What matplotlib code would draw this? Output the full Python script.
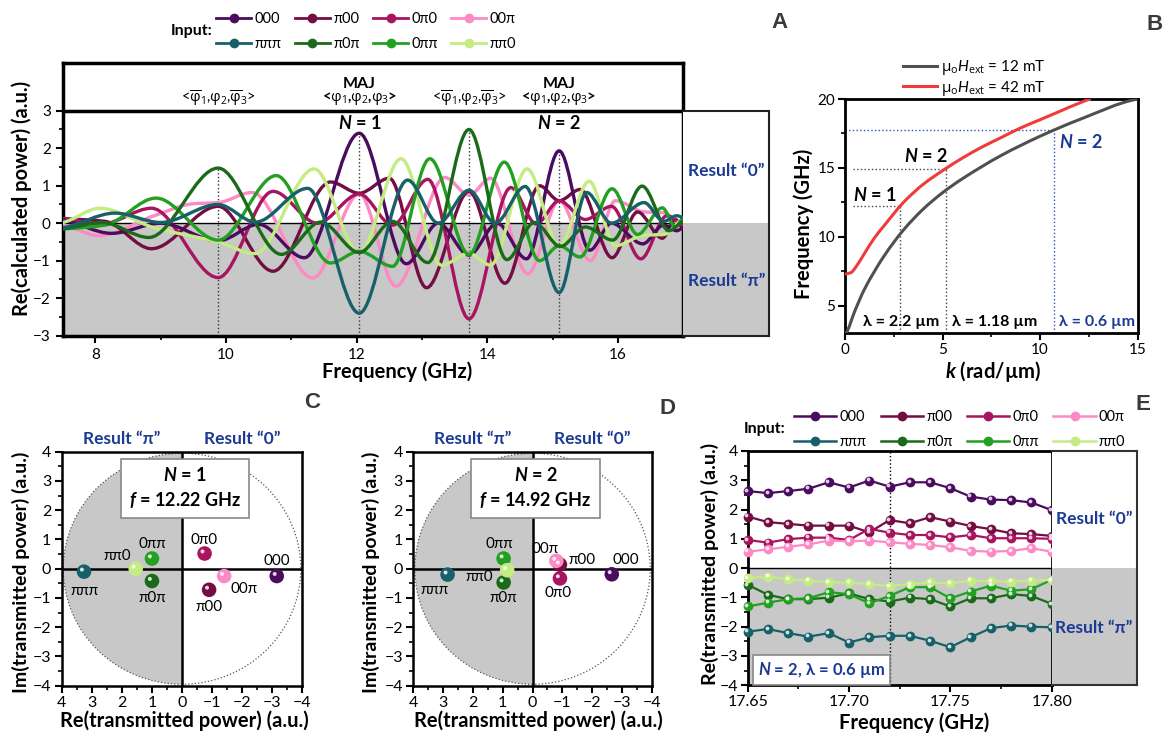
import numpy as np
import matplotlib
matplotlib.use("Agg")
import matplotlib.pyplot as plt
import matplotlib.transforms as mtransforms
from matplotlib.path import Path
from matplotlib.patches import PathPatch, Wedge, Circle
from matplotlib.lines import Line2D
from matplotlib.ticker import MultipleLocator, FixedLocator, FormatStrFormatter

plt.rcParams['font.family'] = ['Lato', 'DejaVu Sans']
plt.rcParams['mathtext.fontset'] = 'custom'
plt.rcParams['mathtext.rm'] = 'Open Sans'
plt.rcParams['mathtext.it'] = 'Lato:italic'
plt.rcParams['mathtext.bf'] = 'Lato:italic:bold'

# ---------------- data ----------------
inputs = ["000", "π00", "0π0", "00π", "πππ", "π0π", "0ππ", "ππ0"]
colors = ["#4b0b5e", "#730d42", "#a8145f", "#fc8ac4",
          "#17606a", "#1a6a1a", "#22a022", "#c4ec82"]

# panel A: turning points of each calculated curve (GHz, a.u.)
fA_000 = [7.5, 8.25, 9.0, 9.88, 10.5, 11.2, 12.04, 12.76, 13.25, 13.72, 14.15, 14.6, 15.1, 15.57, 15.9, 16.38, 16.7, 16.9, 17.0]
pA_000 = [0.08, -0.27, 0.0, -0.47, -0.03, -0.92, 2.4, -1.08, 0.0, -0.85, 0.0, -0.95, 1.93, -0.72, 0.0, -0.55, -0.05, -0.2, -0.12]
fA_ppp = [7.5, 8.3, 9.0, 9.88, 10.45, 11.25, 12.04, 12.78, 13.25, 13.72, 14.12, 14.58, 15.1, 15.52, 15.9, 16.4, 16.7, 16.9, 17.0]
pA_ppp = [-0.12, 0.27, 0.02, 0.5, 0.03, 0.93, -2.4, 1.15, 0.0, 0.88, 0.0, 0.98, -1.85, 0.82, 0.0, 0.55, 0.05, 0.2, 0.15]
fA_p0p = [7.5, 8.1, 8.82, 9.88, 10.85, 11.45, 12.04, 12.55, 13.09, 13.72, 14.3, 14.72, 15.12, 15.5, 15.92, 16.37, 16.78, 17.0]
pA_p0p = [-0.15, 0.02, -0.38, 1.47, -0.83, 0.03, -0.78, 0.05, -1.05, 2.5, -0.97, 0.02, -0.62, -0.1, -0.45, 0.99, -0.2, 0.05]
fA_0p0 = [7.5, 8.1, 8.86, 9.88, 10.72, 11.4, 12.04, 12.55, 13.09, 13.72, 14.36, 14.75, 15.1, 15.5, 15.9, 16.35, 16.75, 17.0]
pA_0p0 = [0.12, -0.02, 0.4, -1.45, 0.85, 0.0, 0.78, -0.05, 1.17, -2.55, 0.95, -0.02, 0.6, 0.1, 0.45, -0.95, 0.2, -0.05]
fA_pp0 = [7.5, 8.07, 8.9, 9.88, 10.44, 11.35, 12.04, 12.68, 13.3, 13.72, 14.05, 14.61, 15.1, 15.56, 15.96, 16.4, 16.7, 17.0]
pA_pp0 = [0.02, 0.4, -0.12, -0.5, -0.81, 1.45, -0.78, 1.72, -1.12, -0.8, -1.12, 1.45, -0.6, 1.12, -0.6, -0.32, -0.3, 0.12]
fA_00p = [7.5, 8.05, 8.9, 9.5, 9.88, 10.4, 11.33, 12.04, 12.6, 13.35, 13.72, 14.05, 14.62, 15.1, 15.58, 15.96, 16.4, 16.7, 17.0]
pA_00p = [-0.05, -0.33, 0.2, 0.52, 0.55, 0.82, -1.46, 0.78, -1.68, 1.22, 0.75, 1.2, -1.35, 0.6, -1.0, 0.6, 0.3, 0.28, -0.1]
fA_0pp = [7.5, 8.15, 8.93, 9.88, 10.77, 11.6, 12.04, 12.55, 13.12, 13.72, 14.26, 14.8, 15.1, 15.42, 15.91, 16.3, 16.68, 16.88, 17.0]
pA_0pp = [-0.15, -0.05, 0.67, -0.45, 1.27, -1.06, -0.75, -1.15, 1.72, -0.83, 1.63, -1.0, -0.6, -0.9, 0.92, -0.3, 0.41, -0.1, 0.15]
fA_p00 = [7.5, 8.15, 8.86, 9.88, 10.72, 11.6, 12.04, 12.5, 13.07, 13.72, 14.27, 14.8, 15.1, 15.42, 15.91, 16.3, 16.68, 16.88, 17.0]
pA_p00 = [0.12, 0.05, -0.68, 0.45, -1.28, 1.1, 0.8, 1.2, -1.72, 0.85, -1.6, 1.0, 0.6, 0.9, -0.92, 0.3, -0.4, 0.1, -0.15]

op_freq = [9.88, 12.04, 13.72, 15.1]
op_top = [1.47, 2.4, 2.5, 1.93]

# panel B: dispersion curves
k_12 = [0.05, 0.5, 1, 2, 3, 4, 5, 6, 8, 10, 12, 15]
f_12 = [3.0, 4.6, 6.2, 8.6, 10.5, 12.0, 13.2, 14.2, 15.9, 17.3, 18.5, 20.0]
k_42 = [0, 0.3, 0.6, 1, 1.5, 2, 3, 4, 5, 6, 7, 8, 9, 10, 11, 12, 12.6]
f_42 = [7.3, 7.4, 7.9, 8.8, 9.9, 10.8, 12.5, 13.8, 14.8, 15.7, 16.5, 17.2, 17.9, 18.5, 19.1, 19.7, 20.0]
k_marks = [2.82, 5.2, 10.7]
f_marks = [12.22, 14.92, 17.76]

# panel C / D: phasors (Re, Im)
re_C = [-3.15, -0.9, -0.75, -1.4, 3.26, 1.0, 1.0, 1.54]
im_C = [-0.25, -0.72, 0.52, -0.25, -0.1, -0.42, 0.35, 0.0]
re_D = [-2.66, -0.92, -0.92, -0.8, 2.85, 0.97, 0.97, 0.85]
im_D = [-0.19, 0.14, -0.33, 0.27, -0.2, -0.47, 0.35, -0.05]
lab_C = [(-3.15, 0.27), (-0.9, -1.3), (-0.74, 0.97), (-2.05, -0.7), (3.26, -0.75), (1.0, -1.0), (1.0, 0.86), (2.17, 0.43)]
lab_D = [(-3.14, 0.3), (-1.65, 0.3), (-0.87, -0.82), (-0.42, 0.69), (3.3, -0.73), (1.0, -1.0), (1.11, 0.83), (1.79, -0.29)]

# panel E: measured
freq_E = [17.65, 17.66, 17.67, 17.68, 17.69, 17.70, 17.71, 17.72, 17.73, 17.74, 17.75, 17.76, 17.77, 17.78, 17.79, 17.80]
E_000 = [2.63, 2.56, 2.63, 2.71, 2.93, 2.75, 2.99, 2.78, 2.93, 2.93, 2.73, 2.44, 2.34, 2.32, 2.24, 1.98]
E_p00 = [1.76, 1.57, 1.51, 1.45, 1.45, 1.45, 1.22, 1.64, 1.53, 1.74, 1.59, 1.44, 1.33, 1.19, 1.16, 1.10]
E_0p0 = [0.96, 0.87, 0.99, 1.04, 1.04, 0.96, 1.34, 1.21, 1.13, 1.13, 1.05, 1.13, 1.02, 1.02, 1.02, 1.00]
E_00p = [0.56, 0.64, 0.73, 0.81, 0.94, 0.91, 0.94, 0.88, 0.83, 0.79, 0.71, 0.59, 0.56, 0.59, 0.68, 0.56]
E_ppp = [-2.17, -2.08, -2.22, -2.34, -2.22, -2.54, -2.36, -2.31, -2.31, -2.48, -2.70, -2.36, -2.05, -1.96, -2.00, -2.02]
E_p0p = [-0.57, -0.91, -1.06, -1.06, -1.01, -0.86, -1.06, -1.14, -1.01, -1.06, -1.31, -1.03, -1.03, -0.89, -0.95, -1.22]
E_0pp = [-1.31, -1.18, -1.06, -1.03, -0.82, -0.89, -1.20, -0.95, -0.65, -0.65, -1.03, -0.80, -0.60, -0.77, -0.72, -0.40]
E_pp0 = [-0.35, -0.29, -0.38, -0.43, -0.49, -0.49, -0.55, -0.61, -0.54, -0.49, -0.52, -0.43, -0.44, -0.46, -0.43, -0.40]
E_mark = 17.72

BLUE = "#1b3a93"
GRAY = "#c8c8c8"


def smooth_path(xs, ys):
    # cubic through the read points, flat at turning points
    xs = np.asarray(xs, float)
    ys = np.asarray(ys, float)
    d = np.diff(ys) / np.diff(xs)
    m = np.zeros_like(ys)
    m[0] = d[0] * 0.5
    m[-1] = d[-1] * 0.5
    for i in range(1, len(xs) - 1):
        if d[i - 1] * d[i] > 0:
            m[i] = 2.0 / (1.0 / d[i - 1] + 1.0 / d[i])
    verts = [(xs[0], ys[0])]
    codes = [Path.MOVETO]
    for i in range(len(xs) - 1):
        h = xs[i + 1] - xs[i]
        verts += [(xs[i] + h / 3, ys[i] + m[i] * h / 3),
                  (xs[i + 1] - h / 3, ys[i + 1] - m[i + 1] * h / 3),
                  (xs[i + 1], ys[i + 1])]
        codes += [Path.CURVE4] * 3
    return Path(verts, codes)


def px(x, y):
    return x / 1165, 1 - y / 733


fig = plt.figure(figsize=(11.65, 7.33), dpi=100)

# ---------------- panel A ----------------
axA = fig.add_axes([0.0538, 0.542, 0.5327, 0.3724])
axA.set_xlim(7.5, 17)
axA.set_ylim(-3, 4.28)
axA.axhspan(-3, 0, color=GRAY, lw=0, zorder=0)
axA.axhline(0, color='k', lw=1.0, zorder=1)
axA.axhline(3, color='k', lw=2.5, zorder=6)
for f, top in zip(op_freq, op_top):
    axA.plot([f, f], [-3, top], ls=':', color='#333333', lw=1.0, zorder=2)

curvesA = [(fA_00p, pA_00p, 3), (fA_p00, pA_p00, 1), (fA_0p0, pA_0p0, 2),
           (fA_000, pA_000, 0), (fA_pp0, pA_pp0, 7), (fA_0pp, pA_0pp, 6),
           (fA_p0p, pA_p0p, 5), (fA_ppp, pA_ppp, 4)]
for fx, py, ci in curvesA:
    axA.add_patch(PathPatch(smooth_path(fx, py), fill=False, ec=colors[ci],
                            lw=2.4, zorder=3, capstyle='round'))

axA.set_xticks([8, 10, 12, 14, 16])
axA.xaxis.set_minor_locator(FixedLocator([9, 11, 13, 15]))
axA.set_yticks([-3, -2, -1, 0, 1, 2, 3])
axA.yaxis.set_minor_locator(FixedLocator([-2.5, -1.5, -0.5, 0.5, 1.5, 2.5]))
axA.tick_params(which='major', direction='out', length=5, width=1.5, labelsize=11)
axA.tick_params(which='minor', direction='out', length=3, width=1.2)
for s in axA.spines.values():
    s.set_linewidth(2.5)

opA_labels = [r'<$\overline{\mathrm{\varphi}}_1$,$\mathrm{\varphi}_2$,$\overline{\mathrm{\varphi}}_3$>',
              r'<$\mathrm{\varphi}_1$,$\mathrm{\varphi}_2$,$\mathrm{\varphi}_3$>',
              r'<$\overline{\mathrm{\varphi}}_1$,$\mathrm{\varphi}_2$,$\overline{\mathrm{\varphi}}_3$>',
              r'<$\mathrm{\varphi}_1$,$\mathrm{\varphi}_2$,$\mathrm{\varphi}_3$>']
for i, (f, lab) in enumerate(zip(op_freq, opA_labels)):
    axA.text(f, 3.32, lab, ha='center', va='center', fontsize=10.5,
             fontweight='bold' if i % 2 else 'normal')
    if i % 2:
        axA.text(f, 3.7, 'MAJ', ha='center', va='center', fontsize=11.5, fontweight='bold')
        axA.text(f, 2.68, r'$\mathbf{N}$ = %d' % ((i + 1) // 2), ha='center', va='center',
                 fontsize=13, fontweight='bold', zorder=7)

axA2 = fig.add_axes([0.5865, 0.542, 0.0738, 0.307])
axA2.set_xlim(0, 1)
axA2.set_ylim(-3, 3)
axA2.axhspan(-3, 0, color=GRAY, lw=0)
axA2.set_xticks([])
axA2.set_yticks([])
for s in axA2.spines.values():
    s.set_linewidth(1.5)
    s.set_color('#222222')
axA2.spines['left'].set_visible(False)
axA2.text(0.5, 1.39, 'Result “0”', color=BLUE, ha='center', va='center', fontsize=12.5, fontweight='bold')
axA2.text(0.5, -1.55, 'Result “π”', color=BLUE, ha='center', va='center', fontsize=12.5, fontweight='bold')

fig.text(*px(397, 372), 'Frequency (GHz)', ha='center', va='center', fontsize=14.5, fontweight='bold')
fig.text(*px(22, 198), 'Re(calculated power) (a.u.)', ha='center', va='center', rotation=90,
         fontsize=14.5, fontweight='bold')

# legend for panel A
order = [0, 4, 1, 5, 2, 6, 3, 7]
hA = [Line2D([], [], color=colors[i], lw=2, marker='o', ms=6) for i in order]
fig.legend(hA, [inputs[i] for i in order], ncol=4, loc='upper left',
           bbox_to_anchor=px(216, 12), frameon=False, fontsize=10.5, handlelength=2.4,
           handletextpad=0.25, columnspacing=0.9, labelspacing=0.75, borderpad=0, borderaxespad=0)
fig.text(*px(192, 31), 'Input:', ha='center', va='center', fontsize=11.5, fontweight='bold')

# ---------------- panel B ----------------
axB = fig.add_axes([0.7253, 0.5453, 0.2512, 0.3196])
axB.set_xlim(0, 15)
axB.set_ylim(3, 20)
axB.add_patch(PathPatch(smooth_path(k_12, f_12), fill=False, ec='#505050', lw=2.2, zorder=3))
axB.add_patch(PathPatch(smooth_path(k_42, f_42), fill=False, ec='#ef3b3b', lw=2.2, zorder=3))
axB.plot([0.43, k_marks[0]], [f_marks[0]] * 2, ls=':', color='#444', lw=1)
axB.plot([k_marks[0]] * 2, [3, f_marks[0]], ls=':', color='#444', lw=1)
axB.plot([0.43, k_marks[1]], [f_marks[1]] * 2, ls=':', color='#444', lw=1)
axB.plot([k_marks[1]] * 2, [3, f_marks[1]], ls=':', color='#444', lw=1)
axB.plot([0, k_marks[2]], [f_marks[2]] * 2, ls=':', color='#3050c0', lw=1)
axB.plot([k_marks[2]] * 2, [3, f_marks[2]], ls=':', color='#3050c0', lw=1)
axB.text(1.55, 13.0, r'$\mathbf{N}$ = 1', ha='center', va='center', fontsize=13, fontweight='bold')
axB.text(4.15, 15.9, r'$\mathbf{N}$ = 2', ha='center', va='center', fontsize=13, fontweight='bold')
axB.text(12.1, 16.85, r'$\mathbf{N}$ = 2', ha='center', va='center', fontsize=13, fontweight='bold', color=BLUE)
axB.text(2.9, 3.85, 'λ = 2.2 µm', ha='center', va='center', fontsize=11.5, fontweight='bold')
axB.text(7.65, 3.85, 'λ = 1.18 µm', ha='center', va='center', fontsize=11.5, fontweight='bold')
axB.text(12.9, 3.85, 'λ = 0.6 µm', ha='center', va='center', fontsize=11.5, fontweight='bold', color=BLUE)
axB.set_xticks([0, 5, 10, 15])
axB.set_yticks([5, 10, 15, 20])
axB.xaxis.set_minor_locator(MultipleLocator(2.5))
axB.yaxis.set_minor_locator(FixedLocator([7.5, 12.5, 17.5]))
axB.tick_params(which='major', direction='out', length=5, width=1.5, labelsize=11, pad=2)
axB.tick_params(which='minor', direction='out', length=3, width=1.2)
for s in axB.spines.values():
    s.set_linewidth(2)
hB = [Line2D([], [], color='#505050', lw=2.2), Line2D([], [], color='#ef3b3b', lw=2.2)]
axB.legend(hB, [r'$\mathrm{\mu_o}\mathit{H}_\mathrm{ext}$ = 12 mT', r'$\mathrm{\mu_o}\mathit{H}_\mathrm{ext}$ = 42 mT'],
           loc='upper left', bbox_to_anchor=px(903, 58), bbox_transform=fig.transFigure,
           frameon=False, fontsize=11, handlelength=2.2, handletextpad=0.3, labelspacing=0.1,
           borderpad=0, borderaxespad=0)
fig.text(*px(993, 372), r'$\mathbf{k}$ (rad/µm)', ha='center', va='center', fontsize=14.5, fontweight='bold')
fig.text(*px(804, 224), 'Frequency (GHz)', ha='center', va='center', rotation=90, fontsize=14.5,
         fontweight='bold')


# ---------------- panels C, D ----------------
def phasor(rect, re, im, labpos, ntext, ftext):
    ax = fig.add_axes(rect)
    ax.set_xlim(4, -4)
    ax.set_ylim(-4, 4)
    ax.add_patch(Wedge((0, 0), 3.95, -90, 90, fc=GRAY, ec='none', zorder=0))
    ax.add_patch(Circle((0, 0), 3.95, fill=False, ls=':', lw=0.9, ec='#555555', zorder=1))
    ax.axhline(0, color='k', lw=1.8, zorder=2)
    ax.axvline(0, color='k', lw=1.8, zorder=2)
    ax.scatter(re, im, s=110, c=colors, edgecolors='none', zorder=5)
    hl = ax.transData + mtransforms.ScaledTranslation(-1.5 / 72, 1.5 / 72, fig.dpi_scale_trans)
    ax.scatter(re, im, s=8, c='white', alpha=0.85, edgecolors='none', zorder=6, transform=hl)
    for lab, (lx, ly) in zip(inputs, labpos):
        ax.text(lx, ly, lab, ha='center', va='center', fontsize=11, zorder=7)
    ax.text(-0.1, 2.77, r'$\mathbf{N}$ = %s' % ntext + '\n' + r'$\mathbf{f}$ = %s GHz' % ftext,
            ha='center', va='center', fontsize=13, fontweight='bold', linespacing=1.35, zorder=8,
            bbox=dict(boxstyle='square,pad=0.45', fc='white', ec='#888888', lw=1.2))
    ax.text(2, 4.45, 'Result “π”', ha='center', va='center', color=BLUE, fontsize=12.5,
            fontweight='bold', clip_on=False)
    ax.text(-2, 4.45, 'Result “0”', ha='center', va='center', color=BLUE, fontsize=12.5,
            fontweight='bold', clip_on=False)
    ax.set_xticks(range(-4, 5))
    ax.set_yticks(range(-4, 5))
    ax.xaxis.set_minor_locator(MultipleLocator(0.5))
    ax.yaxis.set_minor_locator(MultipleLocator(0.5))
    ax.tick_params(which='major', direction='out', length=5, width=1.5, labelsize=11.5, pad=2.5)
    ax.tick_params(which='minor', direction='out', length=3, width=1.2)
    for s in ax.spines.values():
        s.set_linewidth(1.8)
    return ax


axC = phasor([0.053, 0.0645, 0.2065, 0.3192], re_C, im_C, lab_C, '1', '12.22')
axD = phasor([0.3548, 0.0645, 0.2046, 0.3192], re_D, im_D, lab_D, '2', '14.92')
fig.text(*px(184, 721), 'Re(transmitted power) (a.u.)', ha='center', va='center', fontsize=14.5, fontweight='bold')
fig.text(*px(21, 572), 'Im(transmitted power) (a.u.)', ha='center', va='center', rotation=90,
         fontsize=14, fontweight='bold')
fig.text(*px(538, 721), 'Re(transmitted power) (a.u.)', ha='center', va='center', fontsize=14.5, fontweight='bold')
fig.text(*px(371, 572), 'Im(transmitted power) (a.u.)', ha='center', va='center', rotation=90,
         fontsize=14, fontweight='bold')

# ---------------- panel E ----------------
axE = fig.add_axes([0.6418, 0.0651, 0.2609, 0.3197])
axE.set_xlim(17.65, 17.80)
axE.set_ylim(-4, 4)
axE.axhspan(-4, 0, color=GRAY, lw=0, zorder=0)
axE.axhline(0, color='k', lw=1.0, zorder=1)
axE.axvline(E_mark, color='k', ls=':', lw=1.0, zorder=2)
seriesE = [E_000, E_p00, E_0p0, E_00p, E_ppp, E_p0p, E_0pp, E_pp0]
hlE = axE.transData + mtransforms.ScaledTranslation(-0.9 / 72, 0.9 / 72, fig.dpi_scale_trans)
for vals, c in zip(seriesE, colors):
    axE.plot(freq_E, vals, '-o', color=c, lw=1.6, ms=6, clip_on=False, zorder=3)
    axE.plot(freq_E, vals, 'o', color='white', ms=1.8, alpha=0.7, clip_on=False, zorder=4,
             transform=hlE)
axE.text(17.655, -3.47, r'$\mathbf{N}$ = 2, λ = 0.6 µm', ha='left', va='center', color=BLUE,
         fontsize=12, fontweight='bold', zorder=6,
         bbox=dict(boxstyle='square,pad=0.3', fc='white', ec='#888888', lw=1.2))
axE.set_xticks([17.65, 17.70, 17.75, 17.80])
axE.xaxis.set_major_formatter(FormatStrFormatter('%.2f'))
axE.xaxis.set_minor_locator(FixedLocator([17.675, 17.725, 17.775]))
axE.set_yticks(range(-4, 5))
axE.yaxis.set_minor_locator(MultipleLocator(0.5))
axE.tick_params(which='major', direction='out', length=5, width=1.5, labelsize=11.5, pad=2)
axE.tick_params(which='minor', direction='out', length=3, width=1.2)
for s in axE.spines.values():
    s.set_linewidth(2)

axE2 = fig.add_axes([0.9027, 0.0651, 0.073, 0.3197])
axE2.set_xlim(0, 1)
axE2.set_ylim(-4, 4)
axE2.axhspan(-4, 0, color=GRAY, lw=0)
axE2.set_xticks([])
axE2.set_yticks([])
for s in axE2.spines.values():
    s.set_linewidth(1.5)
    s.set_color('#333333')
axE2.spines['left'].set_visible(False)
axE2.text(0.5, 1.68, 'Result “0”', color=BLUE, ha='center', va='center', fontsize=12.5, fontweight='bold')
axE2.text(0.5, -2.05, 'Result “π”', color=BLUE, ha='center', va='center', fontsize=12.5, fontweight='bold')

hE = [Line2D([], [], color=colors[i], lw=1.8, marker='o', ms=6) for i in order]
fig.legend(hE, [inputs[i] for i in order], ncol=4, loc='upper left',
           bbox_to_anchor=px(794, 410), frameon=False, fontsize=10.5, handlelength=2.9,
           handletextpad=0.2, columnspacing=1.0, labelspacing=0.75, borderpad=0, borderaxespad=0)
fig.text(*px(765, 429), 'Input:', ha='center', va='center', fontsize=11.5, fontweight='bold')
fig.text(*px(914, 723), 'Frequency (GHz)', ha='center', va='center', fontsize=14.5, fontweight='bold')
fig.text(*px(710, 564), 'Re(transmitted power) (a.u.)', ha='center', va='center', rotation=90,
         fontsize=14, fontweight='bold')

# panel letters
for let, (x, y) in zip("ABCDE", [(779, 23), (1155, 25), (312, 403), (668, 409), (1143, 405)]):
    fig.text(*px(x, y), let, ha='center', va='center', fontsize=16, fontweight='bold',
             color='#3a3a3a', family='Liberation Sans')

fig.savefig("out.png", dpi=100)
